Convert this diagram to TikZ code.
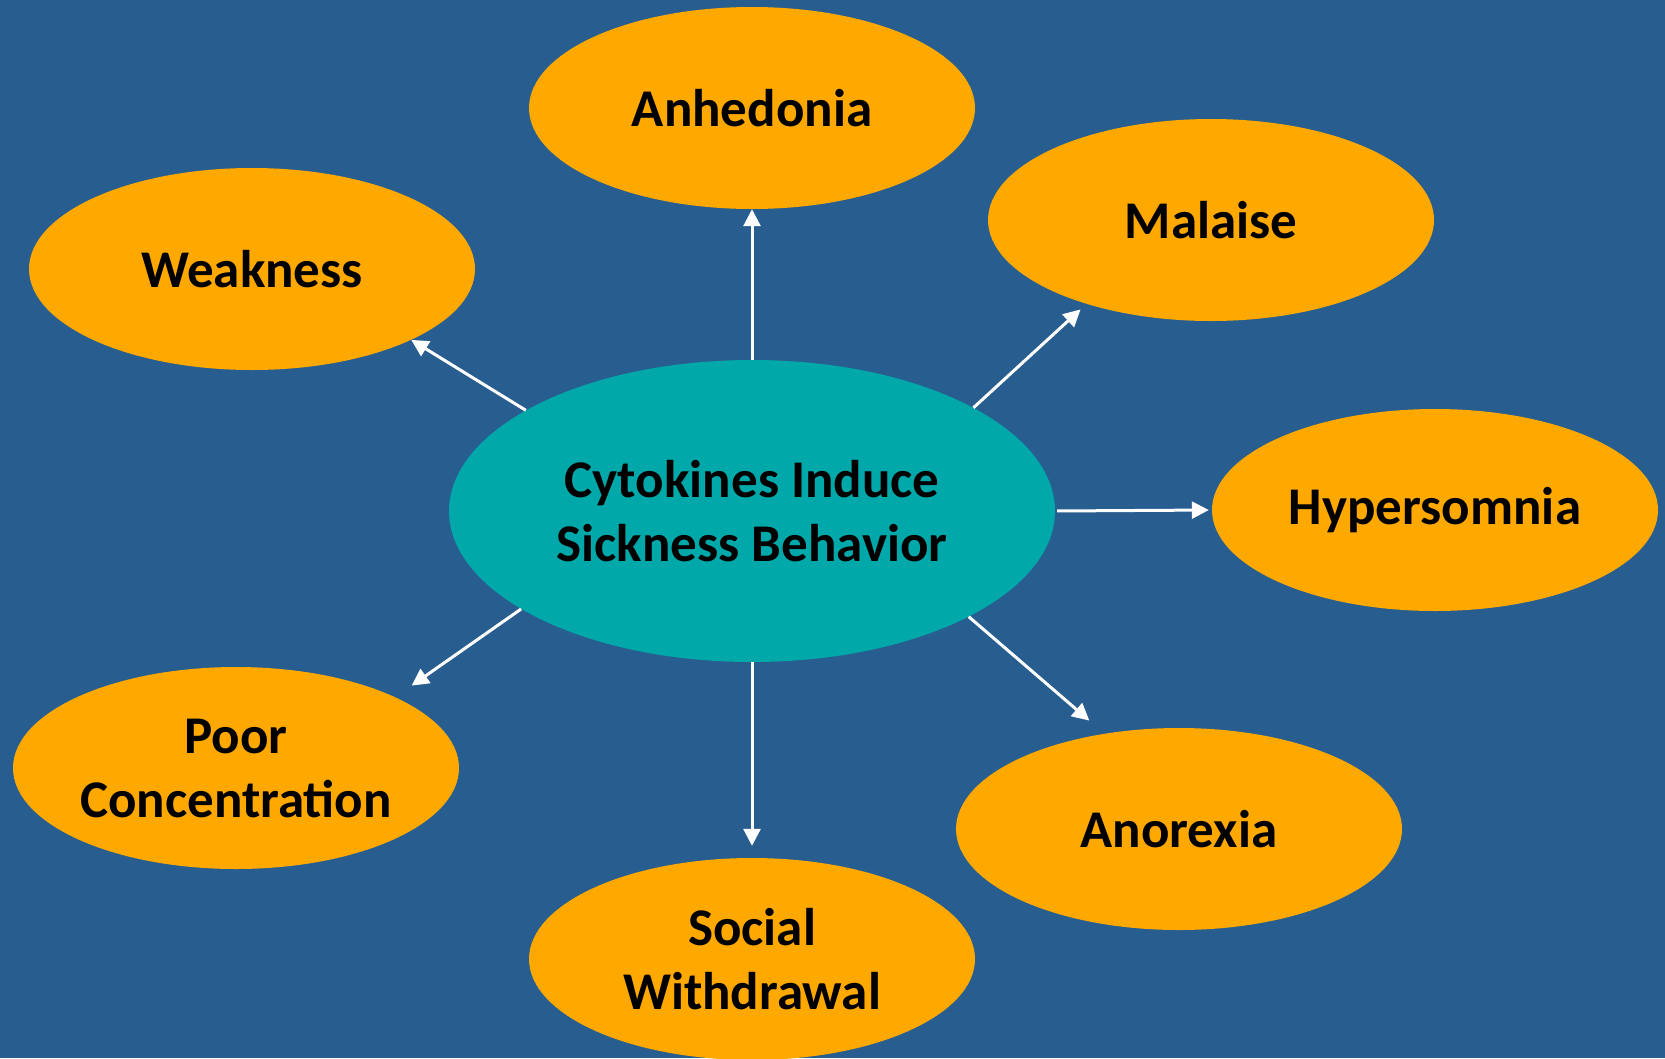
\documentclass[tikz,border=0pt]{standalone}
\usepackage{fontspec}
\setmainfont{Carlito}
\usepackage{xcolor}
\usepackage{tikz}
\usetikzlibrary{shapes.geometric, arrows.meta}

\definecolor{bgblue}{RGB}{39,93,143}
\definecolor{symptom}{RGB}{255,168,0}
\definecolor{cytoteal}{RGB}{0,168,170}

\begin{document}
\begin{tikzpicture}[
    x=1pt, y=-1pt,
    symptom/.style={ellipse, fill=symptom, inner sep=0pt, minimum width=446pt, minimum height=202pt, align=center, font=\fontsize{53}{64}\selectfont\bfseries},
    hub/.style={ellipse, fill=cytoteal, inner sep=0pt, minimum width=606pt, minimum height=302pt, align=center, font=\fontsize{53}{64}\selectfont\bfseries},
    arrow/.style={white, line width=3pt, -{Triangle[length=17pt, width=17pt]}}
]

\fill[bgblue] (0,0) rectangle (1665,1058);
\useasboundingbox (0,0) rectangle (1665,1058);

\node[hub] (cyto) at (752,511) {Cytokines Induce\\Sickness Behavior};
\node[symptom] (anhed) at (752,108) {Anhedonia};
\node[symptom] (malaise) at (1211,220) {Malaise};
\node[symptom] (weak) at (252,269) {Weakness};
\node[symptom] (hyper) at (1435,510) {Hypersomnia};
\node[symptom] (poor) at (236,768) {Poor\\Concentration};
\node[symptom] (anorex) at (1179,829) {Anorexia};
\node[symptom] (social) at (752,959) {Social\\Withdrawal};

\draw[arrow] (cyto.90) -- (anhed.270);
\draw[arrow, shorten >=8pt] (cyto.25) -- (malaise.214);
\draw[arrow, shorten <=2pt, shorten >=3pt] (cyto.0) -- (hyper.180);
\draw[arrow] (cyto.156) -- (weak.336);
\draw[arrow, shorten >=20pt] (cyto.203) -- (poor.24);
\draw[arrow, shorten >=12pt] (cyto.270) -- (social.90);
\draw[arrow, shorten >=20pt] (cyto.334) -- (anorex.128);

\end{tikzpicture}
\end{document}
